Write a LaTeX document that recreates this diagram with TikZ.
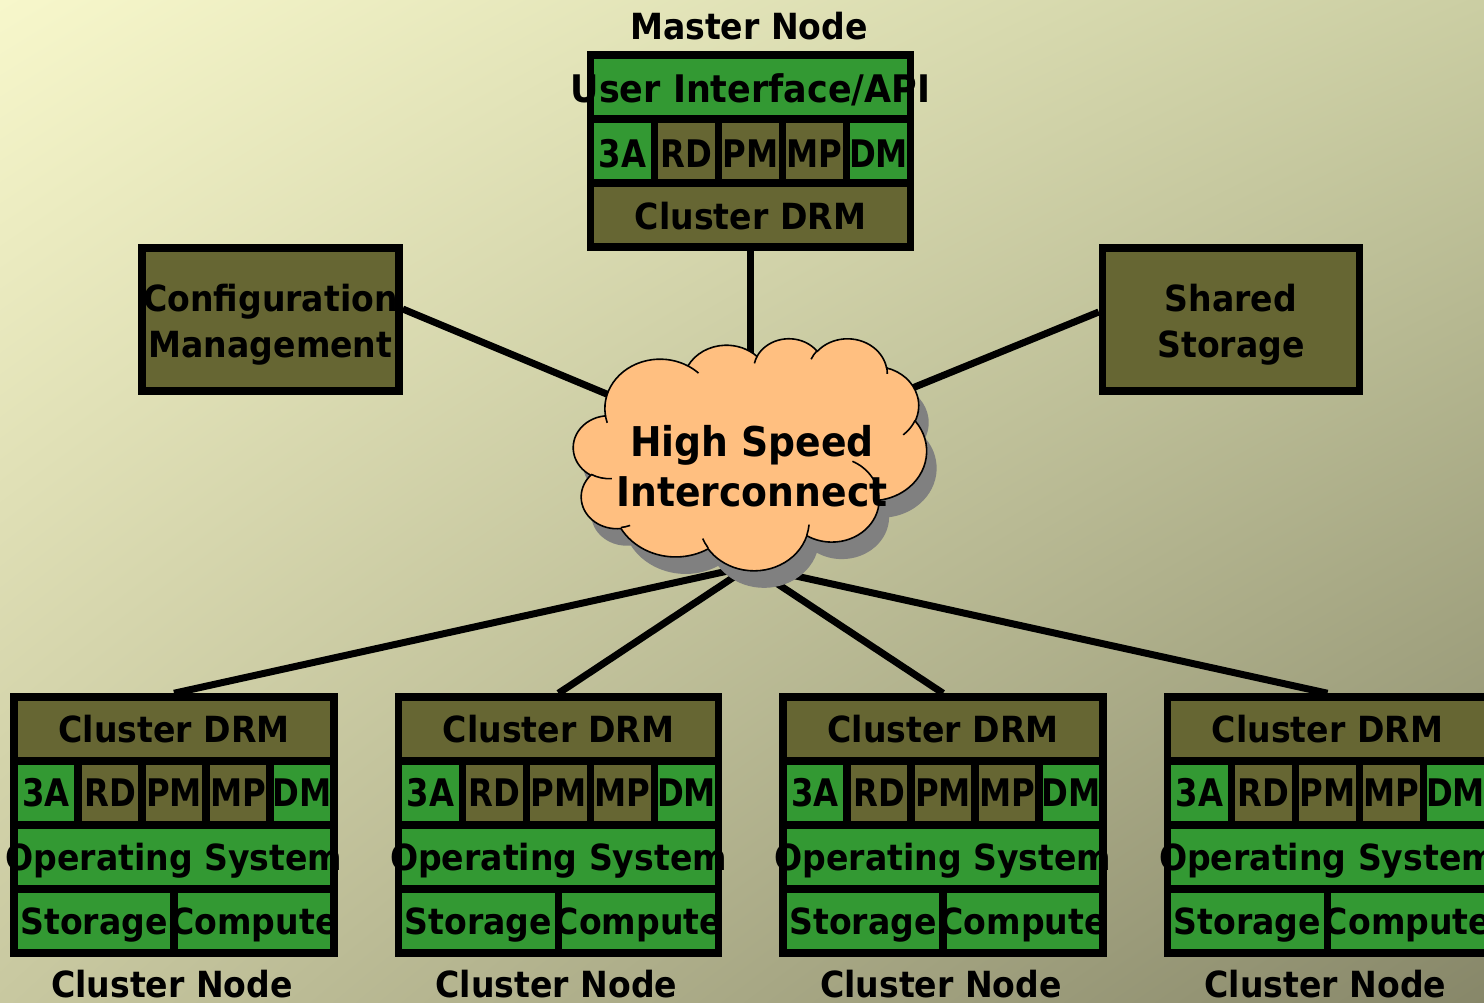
\documentclass[tikz,border=0pt]{standalone}
\usepackage{fontspec}
\usetikzlibrary{shadings}
\newfontfamily\lbl{DejaVu Sans}[FakeStretch=0.92]
\newfontfamily\lblc{DejaVu Sans}[FakeStretch=0.85]
\definecolor{olv}{RGB}{102,102,51}
\definecolor{grn}{RGB}{51,153,51}
\definecolor{peach}{RGB}{255,191,128}
\definecolor{shd}{RGB}{128,128,128}
\definecolor{bgA}{RGB}{247,247,203}
\definecolor{bgB}{RGB}{203,206,163}
\definecolor{bgC}{RGB}{200,200,160}
\definecolor{bgD}{RGB}{135,135,105}
\pgfdeclarelayer{back}
\pgfdeclarelayer{wires}
\pgfsetlayers{back,wires,main}
% convert a DrawingML visual arc angle pair into parametric angles
\newcommand\cldang[5]{%
  \pgfmathsetmacro\cldtmpa{atan2(#2*sin(#4),#3*cos(#4))}%
  \pgfmathsetmacro\cldtmpb{atan2(#2*sin(#4+#5),#3*cos(#4+#5))}%
  \pgfmathsetmacro\cldtmpb{\cldtmpa+mod(\cldtmpb-\cldtmpa+720,360)}%
  \expandafter\let\csname cldS#1\endcsname\cldtmpa
  \expandafter\let\csname cldE#1\endcsname\cldtmpb
}
\begin{document}
\begin{tikzpicture}[x=1pt,y=-1pt,
  cell/.style={draw=black,line width=7.5pt,inner sep=0pt,minimum height=64pt},
  f36/.style={font=\lbl\bfseries\fontsize{36}{43}\selectfont},
  txt/.style={f36,inner sep=0pt,text height=27pt,text depth=0pt},
  modt/.style={txt,font=\lblc\bfseries\fontsize{38}{44}\selectfont},
  conn/.style={draw=black,line width=7pt},
  side/.style={draw=black,line width=7.5pt,fill=olv,inner sep=0pt,
    minimum width=257pt,minimum height=143pt,align=center,
    font=\lbl\bfseries\fontsize{36}{45.5}\selectfont},
]
\path[use as bounding box] (0,0) rectangle (1484,1003);
\begin{pgfonlayer}{back}
\shade[upper left=bgA,upper right=bgB,lower left=bgC,lower right=bgD] (0,0) rectangle (1484,1003);
\end{pgfonlayer}

% ---------- cloud (High Speed Interconnect) ----------
\cldang{a}{6.753}{9.190}{-190.4875}{123.7805}
\cldang{b}{5.333}{7.267}{-144.1024}{89.9452}
\cldang{c}{4.365}{5.945}{-145.8079}{99.7230}
\cldang{d}{4.857}{6.595}{-130.9861}{117.2417}
\cldang{e}{5.333}{7.273}{-78.7089}{109.0269}
\cldang{f}{6.775}{9.220}{-46.2673}{130.2690}
\cldang{g}{5.785}{7.867}{0.6250}{114.0333}
\cldang{h}{6.752}{9.215}{22.4516}{115.1726}
\cldang{i}{7.720}{10.543}{66.2426}{75.7110}
\cldang{j}{4.360}{5.918}{-274.9421}{146.7356}
\cldang{k}{4.345}{5.945}{-246.8285}{152.5226}
\cldang{ia}{4.345}{5.945}{86.7420}{26.4295}
\cldang{ib}{4.360}{5.918}{73.6105}{11.4475}
\cldang{ic}{6.752}{9.215}{137.6242}{14.0811}
\cldang{id}{6.752}{9.215}{6.4533}{15.9984}
\cldang{ie}{5.785}{7.867}{-70.2924}{70.9174}
\cldang{if}{5.333}{7.273}{30.3180}{27.7515}
\cldang{ig}{4.857}{6.595}{-13.7443}{14.8589}
\cldang{ih}{4.857}{6.595}{-149.1815}{18.1954}
\cldang{ii}{4.365}{5.945}{-163.4943}{17.6864}
\cldang{ij}{6.753}{9.190}{-66.7070}{12.3194}
\cldang{ik}{6.753}{9.190}{157.6544}{11.8582}
\def\cldpath{(3.900,14.370)
  arc[start angle=\cldSa,end angle=\cldEa,x radius=6.753,y radius=9.190]
  arc[start angle=\cldSb,end angle=\cldEb,x radius=5.333,y radius=7.267]
  arc[start angle=\cldSc,end angle=\cldEc,x radius=4.365,y radius=5.945]
  arc[start angle=\cldSd,end angle=\cldEd,x radius=4.857,y radius=6.595]
  arc[start angle=\cldSe,end angle=\cldEe,x radius=5.333,y radius=7.273]
  arc[start angle=\cldSf,end angle=\cldEf,x radius=6.775,y radius=9.220]
  arc[start angle=\cldSg,end angle=\cldEg,x radius=5.785,y radius=7.867]
  arc[start angle=\cldSh,end angle=\cldEh,x radius=6.752,y radius=9.215]
  arc[start angle=\cldSi,end angle=\cldEi,x radius=7.720,y radius=10.543]
  arc[start angle=\cldSj,end angle=\cldEj,x radius=4.360,y radius=5.918]
  arc[start angle=\cldSk,end angle=\cldEk,x radius=4.345,y radius=5.945]
  -- cycle}
\begin{scope}[shift={(573.5pt,-338pt)},x=8.1713pt,y=-5.3704pt]
  \begin{scope}[shift={(10pt,-17pt)}]
    \fill[shd] \cldpath;
  \end{scope}
  \draw[fill=peach,line width=1.6pt] \cldpath;
  \draw[line width=1.6pt]
    (4.693,26.177) arc[start angle=\cldSia,end angle=\cldEia,x radius=4.345,y radius=5.945]
    (6.928,34.899) arc[start angle=\cldSib,end angle=\cldEib,x radius=4.360,y radius=5.918]
    (16.478,39.090) arc[start angle=\cldSic,end angle=\cldEic,x radius=6.752,y radius=9.215]
    (28.827,34.751) arc[start angle=\cldSid,end angle=\cldEid,x radius=6.752,y radius=9.215]
    (34.129,22.954) arc[start angle=\cldSie,end angle=\cldEie,x radius=5.785,y radius=7.867]
    (41.798,15.354) arc[start angle=\cldSif,end angle=\cldEif,x radius=5.333,y radius=7.273]
    (38.324,5.426) arc[start angle=\cldSig,end angle=\cldEig,x radius=4.857,y radius=6.595]
    (29.078,3.952) arc[start angle=\cldSih,end angle=\cldEih,x radius=4.857,y radius=6.595]
    (22.141,4.720) arc[start angle=\cldSii,end angle=\cldEii,x radius=4.365,y radius=5.945]
    (14.000,5.192) arc[start angle=\cldSij,end angle=\cldEij,x radius=6.753,y radius=9.190]
    (4.127,15.789) arc[start angle=\cldSik,end angle=\cldEik,x radius=6.753,y radius=9.190];
\end{scope}
\node[align=center,inner sep=0pt,font=\lbl\bfseries\fontsize{41}{50}\selectfont] (hsi) at (752,466) {High Speed\\Interconnect};
\coordinate (hsi-top) at (750.5,362);
\coordinate (hsi-c) at (750.5,454);
\coordinate (hsi-bot) at (750.5,566);

% ---------- master node ----------
\node[f36,anchor=base] (mtitle) at (749,39.5) {Master Node};
\node[cell,fill=grn,minimum width=320pt] (m-ui) at (750.5,87) {};
\foreach \j/\lab/\col in {0/3A/grn,1/RD/olv,2/PM/olv,3/MP/olv,4/DM/grn}
  \node[cell,fill=\col,minimum width=64pt] (m-\lab) at (622.5+64*\j,151) {};
\node[cell,fill=olv,minimum width=320pt] (m-drm) at (750.5,215) {};
\node[txt,font=\lbl\bfseries\fontsize{38}{44}\selectfont,text height=32pt] (m-ui-t) at (m-ui) {User Interface/API};
\foreach \lab in {3A,RD,PM,MP,DM}
  \node[modt,text height=33pt] (m-\lab-t) at (m-\lab) {\lab};
\node[txt,text height=29pt] (m-drm-t) at (m-drm) {Cluster DRM};

% ---------- side boxes ----------
\node[side] (cm) at (270.5,319.5) {};
\node[side,fill=none,draw=none] (cm-t) at (270.5,324.5) {Configuration\\Management};
\node[side] (ss) at (1231,319.5) {};
\node[side,fill=none,draw=none] (ss-t) at (1231,324.5) {Shared\\Storage};
\coordinate (cm-p) at (402.75,309);
\coordinate (ss-p) at (1098.75,312);

% ---------- cluster nodes ----------
\foreach \i/\L in {1/14,2/398.5,3/783,4/1167.5}{
  \node[cell,fill=olv,minimum width=320pt] (c\i-drm) at (\L+160,729) {};
  \foreach \j/\lab/\col in {0/3A/grn,1/RD/olv,2/PM/olv,3/MP/olv,4/DM/grn}
    \node[cell,fill=\col,minimum width=64pt] (c\i-\lab) at (\L+32+64*\j,793) {};
  \node[cell,fill=grn,minimum width=320pt] (c\i-os) at (\L+160,857) {};
  \node[cell,fill=grn,minimum width=160pt] (c\i-st) at (\L+80,921) {};
  \node[cell,fill=grn,minimum width=160pt] (c\i-cp) at (\L+240,921) {};
  \node[txt] (c\i-drm-t) at (c\i-drm) {Cluster DRM};
  \foreach \lab in {3A,RD,PM,MP,DM}
    \node[modt] (c\i-\lab-t) at (c\i-\lab) {\lab};
  \node[txt] (c\i-os-t) at (c\i-os) {Operating System};
  \node[txt] (c\i-st-t) at (c\i-st) {Storage};
  \node[txt] (c\i-cp-t) at (c\i-cp) {Compute};
  \node[f36,anchor=base] (c\i-title) at (\L+158,997) {Cluster Node};
}

% ---------- connectors ----------
\begin{pgfonlayer}{wires}
\draw[conn] (m-drm.south) -- (hsi-top);
\draw[conn] (cm-p) -- (hsi-c);
\draw[conn] (ss-p) -- (hsi-c);
\foreach \i in {1,...,4}
  \draw[conn] (c\i-drm.north) -- (hsi-bot);
\end{pgfonlayer}
\end{tikzpicture}
\end{document}
